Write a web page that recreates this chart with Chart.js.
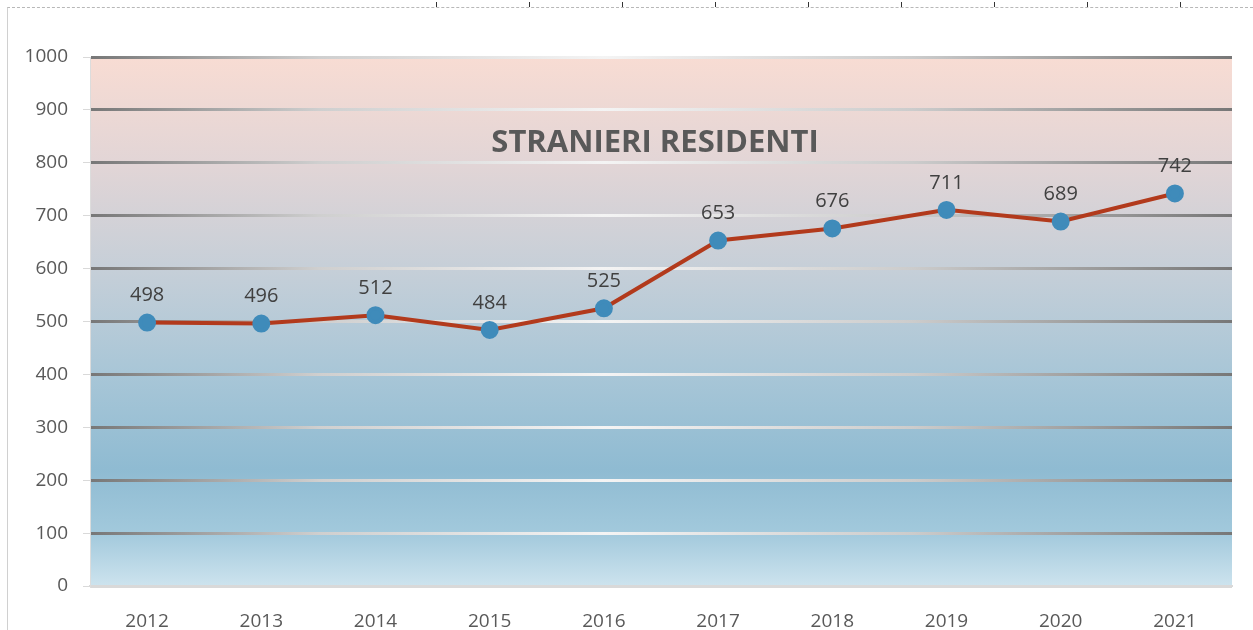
<!DOCTYPE html>
<html>
<head>
<meta charset="utf-8">
<script src="https://cdn.jsdelivr.net/npm/chart.js@4/dist/chart.umd.min.js"></script>
<style>
  html, body { margin: 0; padding: 0; background: #fff; }
  #wrap { position: relative; width: 1253px; height: 630px; overflow: hidden; }
  #frame { position: absolute; left: 7px; top: 7px; right: 0; bottom: 0;
           border-top: 1px dashed #b8b8b8; border-left: 1px solid #d0d0d0; }
  .rule { position: absolute; top: 2px; width: 1px; height: 5px; background: #333; }
  canvas { position: absolute; left: 0; top: 0; }
</style>
</head>
<body>
<div id="wrap">
  <div id="frame"></div>
  <canvas id="grafico" width="1253" height="630"></canvas>
</div>
<script>
// Dati del grafico
const anni = ['2012', '2013', '2014', '2015', '2016', '2017', '2018', '2019', '2020', '2021'];
const residenti = [498, 496, 512, 484, 525, 653, 676, 711, 689, 742];
const titolo = 'STRANIERI RESIDENTI';

// tacche del righello in alto
const righello = [436, 529, 622, 715, 808, 901, 994, 1087, 1180];
righello.forEach(x => {
  const d = document.createElement('div');
  d.className = 'rule';
  d.style.left = x + 'px';
  document.getElementById('wrap').appendChild(d);
});

// sfondo sfumato dell'area del grafico + titolo interno
const sfondo = {
  id: 'sfondo',
  beforeDraw(chart) {
    const { ctx, chartArea: a } = chart;
    const g = ctx.createLinearGradient(0, a.top, 0, a.bottom);
    g.addColorStop(0, '#f8dcd3');
    g.addColorStop(0.2, '#e2d5d6');
    g.addColorStop(0.4, '#c6cfd8');
    g.addColorStop(0.6, '#a8c6d7');
    g.addColorStop(0.78, '#8fbbd2');
    g.addColorStop(0.9, '#a2c9dc');
    g.addColorStop(1, '#cde3ee');
    ctx.save();
    ctx.fillStyle = g;
    ctx.fillRect(a.left, a.top, a.right - a.left, a.bottom - a.top);
    ctx.restore();
  },
  beforeDatasetsDraw(chart) {
    const { ctx, chartArea: a, scales } = chart;
    ctx.save();
    ctx.font = 'bold 31px "Open Sans"';
    ctx.fillStyle = '#595959';
    ctx.textAlign = 'center';
    ctx.textBaseline = 'middle';
    ctx.fillText(titolo, (a.left + a.right) / 2 - 6, scales.y.getPixelForValue(837));
    ctx.restore();
  }
};

// etichette dei valori sopra i punti
const etichette = {
  id: 'etichette',
  afterDatasetsDraw(chart) {
    const { ctx } = chart;
    const meta = chart.getDatasetMeta(0);
    ctx.save();
    ctx.font = '20px "Open Sans"';
    ctx.fillStyle = '#404040';
    ctx.textAlign = 'center';
    ctx.textBaseline = 'middle';
    meta.data.forEach((p, i) => {
      ctx.fillText(residenti[i], p.x, p.y - 27);
    });
    ctx.restore();
  }
};

function coloreGriglia(c) {
  if (c.tick && c.tick.value === 0) return '#d9d9d9';
  const a = c.chart.chartArea;
  if (!a) return '#999';
  const g = c.chart.ctx.createLinearGradient(a.left, 0, a.right, 0);
  g.addColorStop(0, '#777777');
  g.addColorStop(0.2, '#cfcfcf');
  g.addColorStop(0.45, '#f4f4f4');
  g.addColorStop(0.72, '#cccccc');
  g.addColorStop(1, '#777777');
  return g;
}

new Chart(document.getElementById('grafico').getContext('2d'), {
  type: 'line',
  data: {
    labels: anni,
    datasets: [{
      data: residenti,
      borderColor: '#b23a1c',
      borderWidth: 4,
      pointBackgroundColor: '#3f8bba',
      pointBorderColor: '#3f8bba',
      pointRadius: 7,
      pointHoverRadius: 7,
      tension: 0,
      fill: false
    }]
  },
  options: {
    responsive: false,
    animation: false,
    layout: { padding: { top: 57, right: 21, bottom: 0, left: 0 } },
    plugins: {
      legend: { display: false },
      tooltip: { enabled: false }
    },
    scales: {
      x: {
        offset: true,
        grid: { display: false },
        border: { color: '#d9d9d9', width: 2 },
        ticks: { color: '#595959', font: { family: 'Open Sans', size: 19 }, padding: 16, maxRotation: 0 },
        afterFit(s) { s.height = 44; }
      },
      y: {
        min: 0,
        max: 1000,
        ticks: { stepSize: 100, color: '#595959', font: { family: 'Open Sans', size: 19 }, padding: 15,
                 callback: v => String(v) },
        grid: { color: coloreGriglia, lineWidth: 3, tickLength: 7, tickColor: '#d9d9d9', tickWidth: 1 },
        border: { color: '#dcdcdc', width: 1 },
        afterFit(s) { s.width = 90; }
      }
    }
  },
  plugins: [sfondo, etichette]
});
</script>
</body>
</html>
